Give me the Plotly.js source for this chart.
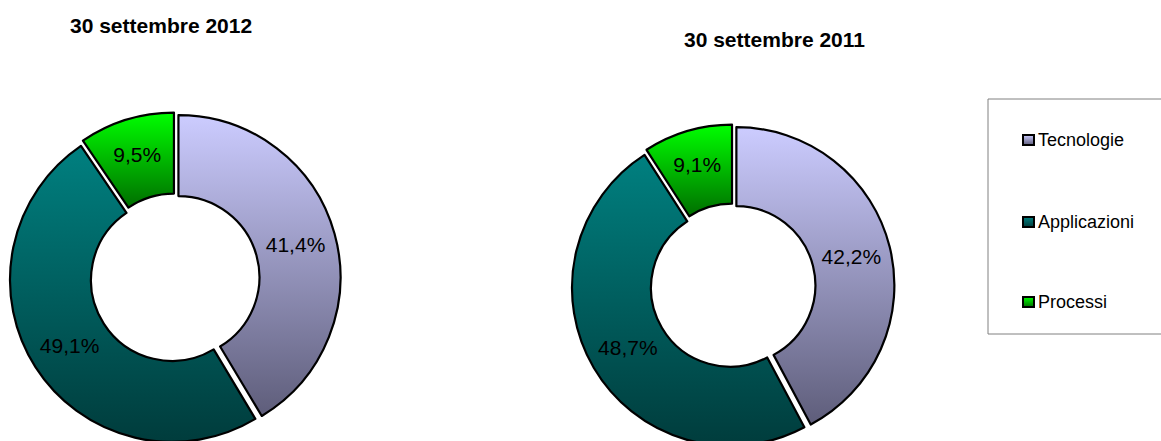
<!DOCTYPE html>
<html><head><meta charset="utf-8">
<script src="https://cdn.plot.ly/plotly-3.0.1.min.js"></script>
<style>html,body{margin:0;padding:0;overflow:hidden;background:#fff}#chart{width:1161px;height:460px}</style>
</head><body><div id="chart"></div>
<script>
// ---- data ----
const categories = ['Tecnologie', 'Applicazioni', 'Processi'];
const values2012 = [41.4, 49.1, 9.5];
const values2011 = [42.2, 48.7, 9.1];
const chartTitles = ['30 settembre 2012', '30 settembre 2011'];
// ---- style ----
const sliceColors = ['#9999BF', '#006060', '#00B800'];
const gradTop = ['#CCCCFF', '#008080', '#00FF00'];
const gradBottom = ['#5E5D7A', '#003C3C', '#006E00'];

const W = 1161, H = 460;
const px = x => x / W;
const py = y => 1 - y / H;
const FONT = 'Liberation Sans, Arial, sans-serif';

function pieTrace(values, cx, cy, R, pull) {
  const half = R * (1 + pull);
  return {
    type: 'pie',
    labels: categories,
    values: values,
    sort: false,
    direction: 'clockwise',
    rotation: 0,
    hole: 0.5,
    pull: categories.map(() => pull),
    marker: {colors: sliceColors, line: {color: '#000000', width: 2.2}},
    textposition: 'inside',
    insidetextorientation: 'horizontal',
    texttemplate: '%{percent:.1%}',
    textfont: {family: FONT, size: 21, color: '#000000'},
    hoverinfo: 'none',
    showlegend: false,
    domain: {x: [px(cx - half), px(cx + half)], y: [py(cy + half), py(cy - half)]}
  };
}

const data = [
  pieTrace(values2012, 175, 278, 162, 0.022),
  pieTrace(values2011, 733, 286, 158, 0.022)
];

const legendY = [140, 222, 302];
const shapes = [{
  type: 'rect', xref: 'paper', yref: 'paper',
  x0: px(988), x1: px(1175), y0: py(334), y1: py(99),
  line: {color: '#808080', width: 1}, fillcolor: 'rgba(0,0,0,0)'
}];
const annotations = [
  {text: '<b>' + chartTitles[0] + '</b>', xref: 'paper', yref: 'paper', x: px(161), y: py(25),
   xanchor: 'center', yanchor: 'middle', showarrow: false, font: {family: FONT, size: 21, color: '#000'}},
  {text: '<b>' + chartTitles[1] + '</b>', xref: 'paper', yref: 'paper', x: px(774.5), y: py(40),
   xanchor: 'center', yanchor: 'middle', showarrow: false, font: {family: FONT, size: 21, color: '#000'}}
];
categories.forEach((c, i) => {
  shapes.push({type: 'rect', xref: 'paper', yref: 'paper',
    x0: px(1023), x1: px(1034), y0: py(legendY[i] + 5), y1: py(legendY[i] - 5),
    line: {color: '#000000', width: 2}, fillcolor: sliceColors[i]});
  annotations.push({text: c, xref: 'paper', yref: 'paper', x: px(1036), y: py(legendY[i]),
    xanchor: 'left', yanchor: 'middle', showarrow: false, font: {family: FONT, size: 18, color: '#000'}});
});

const layout = {
  width: W, height: H,
  margin: {l: 0, r: 0, t: 0, b: 0},
  paper_bgcolor: '#ffffff', plot_bgcolor: '#ffffff',
  separators: ',.',
  font: {family: FONT},
  showlegend: false,
  shapes: shapes,
  annotations: annotations
};

Plotly.newPlot('chart', data, layout, {displayModeBar: false, staticPlot: true}).then(gd => {
  const NS = 'http://www.w3.org/2000/svg';
  const svg = gd.querySelector('svg.main-svg');
  let defs = svg.querySelector('defs');
  if (!defs) { defs = document.createElementNS(NS, 'defs'); svg.insertBefore(defs, svg.firstChild); }
  gradTop.forEach((top, i) => {
    const g = document.createElementNS(NS, 'linearGradient');
    g.setAttribute('id', 'sliceGrad' + i);
    g.setAttribute('x1', '0'); g.setAttribute('y1', '0');
    g.setAttribute('x2', '0'); g.setAttribute('y2', '1');
    [[0, top], [1, gradBottom[i]]].forEach(([o, col]) => {
      const s = document.createElementNS(NS, 'stop');
      s.setAttribute('offset', o); s.setAttribute('stop-color', col);
      g.appendChild(s);
    });
    defs.appendChild(g);
  });
  gd.querySelectorAll('.pielayer .trace').forEach(tr => {
    tr.querySelectorAll('.slice path.surface').forEach((p, i) => {
      p.style.fill = 'url(#sliceGrad' + (i % gradTop.length) + ')';
    });
  });
  gd.querySelectorAll('svg.main-svg').forEach(s => {
    s.querySelectorAll('.shapelayer path').forEach(p => {
      const idx = parseInt(p.getAttribute('data-index'), 10);
      if (idx >= 1 && idx <= gradTop.length) p.style.fill = 'url(#sliceGrad' + (idx - 1) + ')';
    });
  });
});
</script>
</body></html>
